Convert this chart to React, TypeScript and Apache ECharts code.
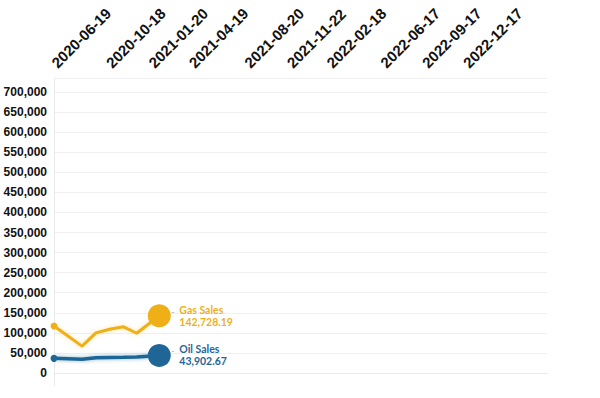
import React, { useEffect, useRef } from "react";
import * as echarts from "echarts";

const dates = ["2020-06-19", "2020-08-20", "2020-09-20", "2020-10-20", "2020-11-20", "2020-12-19", "2021-02-07"];
const gasSales = [117000, 67000, 100000, 109000, 115000, 99000, 142728.19];
const oilSales = [36500, 34000, 38000, 38500, 39000, 40000, 43902.67];
const tickDates = [
  "2020-06-19", "2020-10-18", "2021-01-20", "2021-04-19", "2021-08-20",
  "2021-11-22", "2022-02-18", "2022-06-17", "2022-09-17", "2022-12-17",
];
const seriesNames = ["Gas Sales", "Oil Sales"];
const xMin = "2020-06-19";
const xMax = "2023-06-15";
const yMax = 735000;

const GAS = "#EFAF17";
const OIL = "#1F6697";

const toTs = (d: string) => Date.parse(d + "T00:00:00Z");
const fromTs = (t: number) => new Date(t).toISOString().slice(0, 10);

function fmt(v: number) {
  return v.toLocaleString("en-US", { minimumFractionDigits: 2, maximumFractionDigits: 2 });
}

function makeSeries(name: string, values: number[], color: string, halo: string, width: number) {
  const last = values.length - 1;
  return {
    name,
    type: "line",
    data: values.map((v, i) => [toTs(dates[i]), v]),
    showSymbol: true,
    symbol: "circle",
    symbolSize: (_v: any, p: any) => (p.dataIndex === 0 ? 7 : p.dataIndex === last ? 23 : 0),
    lineStyle: { color, width, shadowColor: halo, shadowBlur: 4 },
    itemStyle: { color },
    endLabel: {
      show: true,
      distance: 12,
      formatter: (p: any) => `{d|-}{n|${name}}\n{s|}{v|${fmt(p.value[1])}}`,
      rich: {
        d: { color: "#aaaaaa", fontFamily: "Lato", fontSize: 9, width: 8, lineHeight: 12, verticalAlign: "bottom" },
        s: { width: 8, lineHeight: 12 },
        n: { color, fontFamily: "Lato", fontWeight: "bold", fontSize: 10.5, lineHeight: 12 },
        v: { color, fontFamily: "Lato", fontWeight: "bold", fontSize: 10.5, lineHeight: 12 },
      },
    },
  };
}

export default function App() {
  const ref = useRef<HTMLDivElement>(null);
  useEffect(() => {
    if (!ref.current) return;
    const chart = echarts.init(ref.current, null, { renderer: "svg" });
    chart.setOption({
      animation: false,
      backgroundColor: "#ffffff",
      grid: { left: 54, right: 53, top: 78, bottom: 25 },
      xAxis: {
        type: "value",
        position: "top",
        min: toTs(xMin),
        max: toTs(xMax),
        axisLine: { show: true, lineStyle: { color: "#e9e9ee", width: 1 } },
        axisTick: { show: false },
        splitLine: { show: false },
        axisLabel: {
          customValues: tickDates.map(toTs),
          rotate: 45,
          margin: 13,
          color: "#111",
          fontFamily: "Liberation Sans",
          fontWeight: "bold",
          fontSize: 15,
          formatter: (v: number) => fromTs(v),
        },
      },
      yAxis: {
        type: "value",
        min: 0,
        max: yMax,
        interval: 50000,
        axisLine: { show: true, lineStyle: { color: "#e9e9ee" } },
        axisTick: { show: false },
        splitLine: { show: true, lineStyle: { color: "#efeff2" } },
        axisLabel: {
          showMaxLabel: false,
          margin: 7,
          color: "#111",
          fontFamily: "Liberation Sans",
          fontWeight: "bold",
          fontSize: 12,
          formatter: (v: number) => v.toLocaleString("en-US"),
        },
      },
      graphic: [
        { type: "line", shape: { x1: 54.5, y1: 373, x2: 54.5, y2: 386 }, style: { stroke: "#e9e9ee", lineWidth: 1 } },
      ],
      series: [
        makeSeries(seriesNames[0], gasSales, GAS, "rgba(239,175,23,0.35)", 3),
        makeSeries(seriesNames[1], oilSales, OIL, "rgba(31,102,151,0.45)", 3.5),
      ],
    });
    return () => chart.dispose();
  }, []);
  return <div ref={ref} style={{ position: "absolute", left: 0, top: 0, width: 600, height: 398 }} />;
}
